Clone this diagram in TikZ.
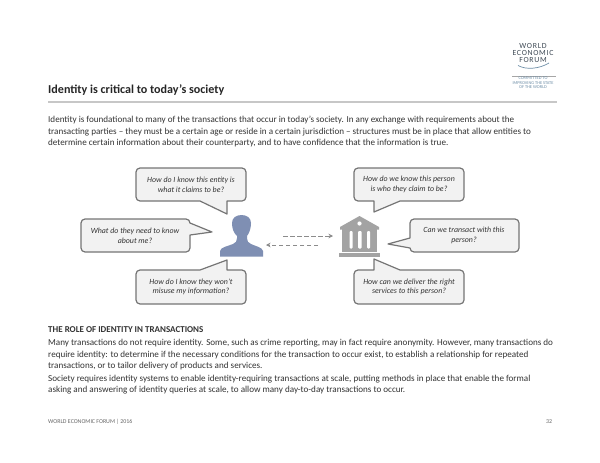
\documentclass[tikz,border=0pt]{standalone}
\usepackage{fontspec}
\setmainfont{Carlito}
\usetikzlibrary{arrows.meta}
\definecolor{txt}{HTML}{333333}
\definecolor{bub}{HTML}{F2F2F2}
\definecolor{bubline}{HTML}{757575}
\definecolor{personc}{HTML}{7F8FB3}
\definecolor{bankc}{HTML}{A3A3A3}
\definecolor{arrowc}{HTML}{8C8C8C}
\definecolor{logoc}{HTML}{3F4A55}
\definecolor{logob}{HTML}{6F8FA8}
\tikzset{
  bubble/.style={draw=bubline,fill=bub,line width=1.2pt,line join=round},
  qtext/.style={font=\fontsize{7.9}{9.6}\selectfont\itshape,text=txt,align=center,inner sep=0pt},
  bodyline/.style={font=\fontsize{9.1}{11}\selectfont,text=txt,anchor=base west,inner sep=0pt},
  titletext/.style={font=\fontsize{12.1}{14}\selectfont\bfseries,text=black!85,anchor=base west,inner sep=0pt},
  foot/.style={font=\fontsize{5.9}{6}\selectfont,text=black!60,anchor=base west,inner sep=0pt},
  logotext/.style={font=\fontsize{7.8}{8}\selectfont\addfontfeature{LetterSpace=9},text=logoc,inner sep=0pt},
  logosmall/.style={font=\fontsize{4.4}{4}\selectfont,text=logob,inner sep=0pt},
  dasharrow/.style={draw=arrowc,line width=.9pt,dash pattern=on 4.5pt off 2.5pt,-{Stealth[length=4.5pt,width=4.5pt]}},
}
\begin{document}
\begin{tikzpicture}[x=1pt,y=-1pt]
\useasboundingbox (0,0) rectangle (600,463);
\fill[white] (0,0) rectangle (600,463);

% logo
\node[logotext] (l1) at (533,46) {WORLD};
\node[logotext] (l2) at (533,53.3) {ECONOMIC};
\node[logotext] (l3) at (533,60) {FORUM};
\draw[logob,line width=.7pt] (518,65.5) .. controls (526,70) and (539,69) .. (549,63);
\draw[black!35,line width=.3pt] (512,76) -- (556,76);
\node[logosmall] (l4) at (533,78.5) {COMMITTED TO};
\node[logosmall] (l5) at (533,82.7) {IMPROVING THE STATE};
\node[logosmall] (l6) at (533,86.9) {OF THE WORLD};

% title
\node[titletext] (title) at (48,93.5) {Identity is critical to today’s society};
\draw[black!22,line width=1.1pt] (48,102) -- (557,102);

% intro
\node[bodyline] (a1) at (48,122.7) {Identity is foundational to many of the transactions that occur in today’s society. In any exchange with requirements about the};
\node[bodyline] (a2) at (48,134) {transacting parties – they must be a certain age or reside in a certain jurisdiction – structures must be in place that allow entities to};
\node[bodyline] (a3) at (48,145) {determine certain information about their counterparty, and to have confidence that the information is true.};

% bubbles
\path[bubble] (140,168) -- (242,168) arc[start angle=-90,end angle=0,radius=4] -- (246,197) arc[start angle=0,end angle=90,radius=4] -- (227,201) -- (227,214) -- (200,201) -- (140,201) arc[start angle=90,end angle=180,radius=4] -- (136,172) arc[start angle=180,end angle=270,radius=4] -- cycle;
\path[bubble] (85,219) -- (186,219) arc[start angle=-90,end angle=0,radius=4] -- (190,223) -- (212,232) -- (190,235) -- (190,248) arc[start angle=0,end angle=90,radius=4] -- (85,252) arc[start angle=90,end angle=180,radius=4] -- (81,223) arc[start angle=180,end angle=270,radius=4] -- cycle;
\path[bubble] (140,270) -- (200,270) -- (227,260) -- (227,270) -- (242,270) arc[start angle=-90,end angle=0,radius=4] -- (246,300) arc[start angle=0,end angle=90,radius=4] -- (140,304) arc[start angle=90,end angle=180,radius=4] -- (136,274) arc[start angle=180,end angle=270,radius=4] -- cycle;
\path[bubble] (358,168) -- (460,168) arc[start angle=-90,end angle=0,radius=4] -- (464,197) arc[start angle=0,end angle=90,radius=4] -- (400,201) -- (374,212) -- (374,201) -- (358,201) arc[start angle=90,end angle=180,radius=4] -- (354,172) arc[start angle=180,end angle=270,radius=4] -- cycle;
\path[bubble] (414,219) -- (515,219) arc[start angle=-90,end angle=0,radius=4] -- (519,248) arc[start angle=0,end angle=90,radius=4] -- (414,252) arc[start angle=90,end angle=180,radius=4] -- (410,248) -- (388,244) -- (410,238) -- (410,223) arc[start angle=180,end angle=270,radius=4] -- cycle;
\path[bubble] (358,270) -- (374,270) -- (374,259) -- (400,270) -- (460,270) arc[start angle=-90,end angle=0,radius=4] -- (464,300) arc[start angle=0,end angle=90,radius=4] -- (358,304) arc[start angle=90,end angle=180,radius=4] -- (354,274) arc[start angle=180,end angle=270,radius=4] -- cycle;

\node[qtext] (q1) at (191,184.5) {How do I know this entity is\\what it claims to be?};
\node[qtext] (q2) at (135,235.5) {What do they need to know\\about me?};
\node[qtext] (q3) at (191,287) {How do I know they won’t\\misuse my information?};
\node[qtext] (q4) at (409,184.5) {How do we know this person\\is who they claim to be?};
\node[qtext] (q5) at (464,235.5) {Can we transact with this\\person?};
\node[qtext] (q6) at (409,287) {How can we deliver the right\\services to this person?};

% person
\fill[personc] (220,256.5) -- (220,251) .. controls (221,247) and (227,246.5) .. (233,244) .. controls (236,243) and (237,241) .. (237,238) -- (237,236)
  .. controls (233.5,233) and (232,228) .. (232,223)
  .. controls (232,218) and (236,215) .. (241.5,215)
  .. controls (247,215) and (251,218) .. (251,223)
  .. controls (251,228) and (249.5,233) .. (247,236) -- (247,238) .. controls (247,241) and (248,243) .. (251,244)
  .. controls (256,246.5) and (262,247) .. (263,251) -- (263,256.5) -- cycle;

% bank
\fill[bankc] (359.5,216) -- (379,227) -- (379,229.5) -- (340,229.5) -- (340,227) -- cycle;
\fill[white] (359.5,223.5) circle[radius=2.1];
\fill[bankc] (342,229) rectangle (377,252);
\fill[bankc] (339,252.5) rectangle (380,257);
\fill[white,rounded corners=1pt] (349.5,231) rectangle (352.5,248.5);
\fill[white,rounded corners=1pt] (358,231) rectangle (361.5,248.5);
\fill[white,rounded corners=1pt] (367,231) rectangle (370,248.5);

% arrows
\coordinate (upS) at (283,236);
\coordinate (upE) at (333,236);
\coordinate (loS) at (318,245);
\coordinate (loE) at (266,245);
\draw[dasharrow] (upS) -- (upE);
\draw[dasharrow] (loS) -- (loE);

% role text
\node[bodyline,font=\fontsize{9}{11}\selectfont\bfseries] (h) at (48,332) {THE ROLE OF IDENTITY IN TRANSACTIONS};
\node[bodyline] (b1) at (48,345.5) {Many transactions do not require identity. Some, such as crime reporting, may in fact require anonymity. However, many transactions do};
\node[bodyline] (b2) at (48,357) {require identity: to determine if the necessary conditions for the transaction to occur exist, to establish a relationship for repeated};
\node[bodyline] (b3) at (48,368.5) {transactions, or to tailor delivery of products and services.};
\node[bodyline] (b4) at (48,381) {Society requires identity systems to enable identity-requiring transactions at scale, putting methods in place that enable the formal};
\node[bodyline] (b5) at (48,392.5) {asking and answering of identity queries at scale, to allow many day-to-day transactions to occur.};

% footer
\node[foot] (f1) at (48,423) {WORLD ECONOMIC FORUM | 2016};
\node[foot] (f2) at (546,423) {32};
\end{tikzpicture}
\end{document}
